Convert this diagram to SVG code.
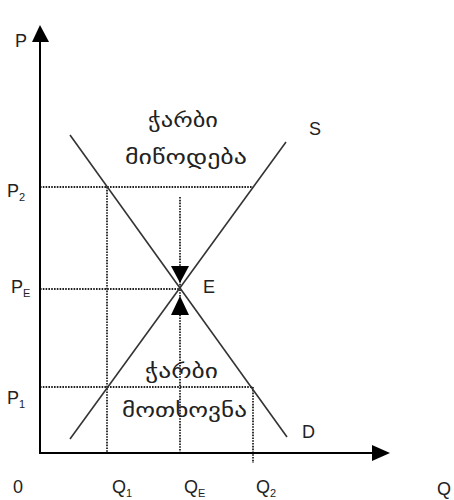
<svg xmlns="http://www.w3.org/2000/svg" width="454" height="500" viewBox="0 0 454 500">
<style>
.axis{stroke:#000;stroke-width:2;fill:none}
.curve{stroke:#333;stroke-width:1.6;fill:none}
.dot{stroke:#222;stroke-width:1.8;stroke-dasharray:1.6 1.2;fill:none}
.lbl{font-family:"Liberation Sans",Arial,sans-serif;font-size:18px;fill:#222}
.sub{font-family:"Liberation Sans",Arial,sans-serif;font-size:11px;fill:#222}
.geo{font-family:"DejaVu Sans","Noto Sans",sans-serif;font-size:19px;fill:#222}
</style>
<rect width="454" height="500" fill="#fff"/>
<g id="connectors">
<line class="dot" x1="40" y1="187" x2="253" y2="187"/>
<line class="dot" x1="40" y1="289" x2="180" y2="289"/>
<line class="dot" x1="40" y1="387" x2="253" y2="387"/>
<line class="dot" x1="107" y1="187" x2="107" y2="453"/>
<line class="dot" x1="180" y1="197" x2="180" y2="453"/>
<line class="dot" x1="253" y1="387" x2="253" y2="463"/>
<line class="curve" x1="70" y1="135" x2="287" y2="437"/>
<line class="curve" x1="70" y1="439" x2="286" y2="142"/>
</g>
<g id="axes">
<line class="axis" x1="40" y1="40" x2="40" y2="454"/>
<line class="axis" x1="39" y1="453" x2="375" y2="453"/>
<polygon points="40,25 32,42 49,42" fill="#000"/>
<polygon points="390,453 372,445 372,461" fill="#000"/>
</g>
<g id="arrows-E">
<polygon points="171,266 189,266 180,283" fill="#000"/>
<polygon points="180,296 171,315 189,315" fill="#000"/>
</g>
<g id="labels">
<text class="lbl" x="15" y="47">P</text>
<text class="lbl" x="7" y="197">P</text><text class="sub" x="19" y="201">2</text>
<text class="lbl" x="11" y="293">P</text><text class="sub" x="23" y="297">E</text>
<text class="lbl" x="7" y="404">P</text><text class="sub" x="19" y="408">1</text>
<text class="lbl" x="13" y="493">0</text>
<text class="lbl" x="112" y="493">Q</text><text class="sub" x="126" y="497">1</text>
<text class="lbl" x="184" y="493">Q</text><text class="sub" x="198" y="497">E</text>
<text class="lbl" x="256" y="493">Q</text><text class="sub" x="270" y="497">2</text>
<text class="lbl" x="437" y="495">Q</text>
<text class="lbl" x="309" y="135">S</text>
<text class="lbl" x="203" y="293">E</text>
<text class="lbl" x="302" y="438">D</text>
</g>
<g id="excess-supply">
<text class="geo" x="148" y="127" textLength="70" lengthAdjust="spacingAndGlyphs">ჭარბი</text>
<text class="geo" x="125" y="164" textLength="122" lengthAdjust="spacingAndGlyphs">მიწოდება</text>
</g>
<g id="excess-demand">
<text class="geo" x="145" y="378" textLength="73" lengthAdjust="spacingAndGlyphs">ჭარბი</text>
<text class="geo" x="122" y="417" textLength="125" lengthAdjust="spacingAndGlyphs">მოთხოვნა</text>
</g>
</svg>
